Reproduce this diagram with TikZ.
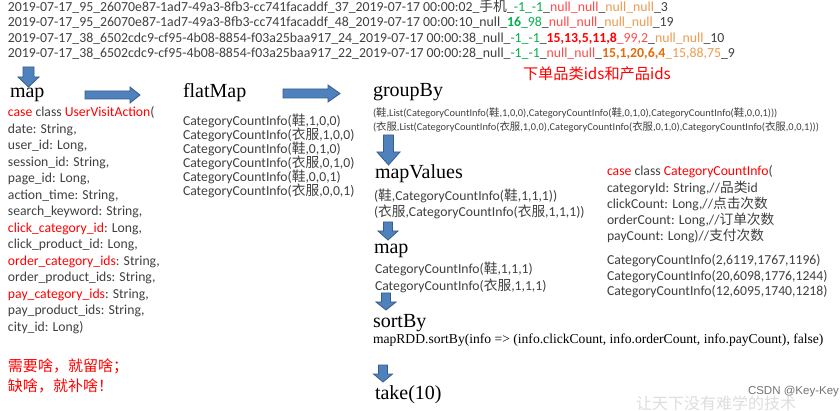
\documentclass[tikz,border=0pt]{standalone}
\usepackage{fontspec}
\setmainfont{Carlito}
\newfontfamily\cjk{Noto Sans CJK SC}
\newfontfamily\tms{Liberation Serif}
\newfontfamily\arialf{Liberation Sans}
\definecolor{txt}{HTML}{404040}
\definecolor{gr}{HTML}{00B050}
\definecolor{rd}{HTML}{FF0000}
\definecolor{rdl}{HTML}{FF4B4B}
\definecolor{orl}{HTML}{F09A50}
\definecolor{ord}{HTML}{E46C0A}
\definecolor{arfill}{HTML}{4F81BD}
\definecolor{arline}{HTML}{385D8A}
\newcommand{\G}[1]{\textcolor{gr}{#1}}
\newcommand{\Rl}[1]{\textcolor{rdl}{#1}}
\newcommand{\R}[1]{\textcolor{rd}{#1}}
\newcommand{\Ol}[1]{\textcolor{orl}{#1}}
\newcommand{\Od}[1]{\textcolor{ord}{#1}}
\newcommand{\xie}{{\cjk 鞋}}
\newcommand{\yf}{{\cjk 衣服}}
\newcommand{\RArr}[6]{% x0, x1, yc, halfhead, halfshaft, headlen
  \filldraw[blockarrow] (#1,{#3-#5}) -- ({#2-#6},{#3-#5}) -- ({#2-#6},{#3-#4}) -- (#2,#3)
    -- ({#2-#6},{#3+#4}) -- ({#2-#6},{#3+#5}) -- (#1,{#3+#5}) -- cycle;}
\newcommand{\DArr}[6]{% xc, y0, y1, halfhead, halfshaft, headlen
  \filldraw[blockarrow] ({#1-#5},#2) -- ({#1-#5},{#3-#6}) -- ({#1-#4},{#3-#6}) -- (#1,#3)
    -- ({#1+#4},{#3-#6}) -- ({#1+#5},{#3-#6}) -- ({#1+#5},#2) -- cycle;}
\begin{document}
\begin{tikzpicture}[x=1pt,y=-1pt,
  every node/.style={inner sep=0pt,outer sep=0pt,anchor=base west},
  blockarrow/.style={fill=arfill,draw=arline,line width=0.8pt,line join=miter},
  toprow/.style={font=\fontsize{13.8}{15}\selectfont,text=txt},
  body/.style={font=\fontsize{13.7}{15}\selectfont,text=txt},
  tiny/.style={font=\fontsize{10.4}{11}\selectfont,text=txt},
  title/.style={font=\tms\fontsize{20}{22}\selectfont,text=black},
  redcjk/.style={font=\cjk\fontsize{15}{17}\selectfont,text=rd}]
\useasboundingbox[fill=white] (0,0) rectangle (840,411);

% top data rows
\node[toprow] (r1) at (8,11.5) {2019-07-17\_95\_26070e87-1ad7-49a3-8fb3-cc741facaddf\_37\_2019-07-17 00:00:02\_{\cjk 手机}\_\G{-1\_-1}\_\Rl{null\_null}\_\Ol{null\_null}\_3};
\node[toprow] (r2) at (8,27) {2019-07-17\_95\_26070e87-1ad7-49a3-8fb3-cc741facaddf\_48\_2019-07-17 00:00:10\_null\_\G{\textbf{16}\_98}\_\Rl{null\_null}\_\Ol{null\_null}\_19};
\node[toprow] (r3) at (8,42.5) {2019-07-17\_38\_6502cdc9-cf95-4b08-8854-f03a25baa917\_24\_2019-07-17 00:00:38\_null\_\G{-1\_-1}\_\R{\textbf{15,13,5,11,8}}\Rl{\_99,2}\_\Ol{null\_null}\_10};
\node[toprow] (r4) at (8,58) {2019-07-17\_38\_6502cdc9-cf95-4b08-8854-f03a25baa917\_22\_2019-07-17 00:00:28\_null\_\G{-1\_-1}\_\Rl{null\_null}\_\Od{\textbf{15,1,20,6,4}}\Ol{\_15,88,75}\_9};
\node[font=\cjk\fontsize{15.2}{17}\selectfont,text=rd] (note) at (523,79.5) {下单品类ids和产品ids};

% arrows
\DArr{28.5}{67}{87}{10.5}{5.5}{10}
\RArr{85}{140}{95}{8}{4}{10}
\RArr{283}{340}{93.5}{8.5}{4.5}{12}
\DArr{388.5}{135}{165}{11.5}{5}{13}
\DArr{388}{222}{240}{10}{4.5}{9}
\DArr{386}{293}{310}{10}{4.5}{8}
\DArr{383}{365}{382}{9.5}{4.5}{8}

% titles
\node[title] (tmap) at (10,98) {map};
\node[title] (tflat) at (183,98) {flatMap};
\node[title] (tgroup) at (373,96.5) {groupBy};
\node[title] (tmapv) at (375,179) {mapValues};
\node[title] (tmap2) at (374,254) {map};
\node[title] (tsort) at (373,327) {sortBy};
\node[title] (ttake) at (375,399) {take(10)};

% left column
\node[body] (l1) at (8,117) {\R{case} class \R{UserVisitAction}(};
\node[body] (l2) at (8,133.5) {date: String,};
\node[body] (l3) at (8,150) {user\_id: Long,};
\node[body] (l4) at (8,166.5) {session\_id: String,};
\node[body] (l5) at (8,183) {page\_id: Long,};
\node[body] (l6) at (8,199.5) {action\_time: String,};
\node[body] (l7) at (8,216) {search\_keyword: String,};
\node[body] (l8) at (8,232.5) {\R{click\_category\_id}: Long,};
\node[body] (l9) at (8,249) {click\_product\_id: Long,};
\node[body] (l10) at (8,265.5) {\R{order\_category\_ids}: String,};
\node[body] (l11) at (8,282) {order\_product\_ids: String,};
\node[body] (l12) at (8,298.5) {\R{pay\_category\_ids}: String,};
\node[body] (l13) at (8,315) {pay\_product\_ids: String,};
\node[body] (l14) at (8,331.5) {city\_id: Long)};
\node[redcjk] (n1) at (8,371) {需要啥，就留啥；};
\node[redcjk] (n2) at (8,391) {缺啥，就补啥！};

% flatMap column
\node[body] (f1) at (183,126) {CategoryCountInfo(\xie,1,0,0)};
\node[body] (f2) at (183,140) {CategoryCountInfo(\yf,1,0,0)};
\node[body] (f3) at (183,154) {CategoryCountInfo(\xie,0,1,0)};
\node[body] (f4) at (183,168) {CategoryCountInfo(\yf,0,1,0)};
\node[body] (f5) at (183,182) {CategoryCountInfo(\xie,0,0,1)};
\node[body] (f6) at (183,196) {CategoryCountInfo(\yf,0,0,1)};

% groupBy
\node[tiny] (g1) at (373,116.5) {(\xie,List(CategoryCountInfo(\xie,1,0,0),CategoryCountInfo(\xie,0,1,0),CategoryCountInfo(\xie,0,0,1)))};
\node[tiny] (g2) at (373,130.5) {(\yf,List(CategoryCountInfo(\yf,1,0,0),CategoryCountInfo(\yf,0,1,0),CategoryCountInfo(\yf,0,0,1)))};

% mapValues
\node[body] (v1) at (374,201) {(\xie,CategoryCountInfo(\xie,1,1,1))};
\node[body] (v2) at (374,216.5) {(\yf,CategoryCountInfo(\yf,1,1,1))};

% map
\node[body] (m1) at (375,274) {CategoryCountInfo(\xie,1,1,1)};
\node[body] (m2) at (375,291) {CategoryCountInfo(\yf,1,1,1)};

% sortBy
\node[font=\tms\fontsize{13.6}{15}\selectfont] (s1) at (373,343.5) {mapRDD.sortBy(info => (info.clickCount, info.orderCount, info.payCount), false)};

% right column
\node[body] (c1) at (607,176) {\R{case} class \R{CategoryCountInfo}(};
\node[body] (c2) at (607,192.5) {categoryId: String,//{\cjk 品类}id};
\node[body] (c3) at (607,209) {clickCount: Long,//{\cjk 点击次数}};
\node[body] (c4) at (607,225) {orderCount: Long,//{\cjk 订单次数}};
\node[body] (c5) at (607,241) {payCount: Long)//{\cjk 支付次数}};
\node[body] (c6) at (607,265) {CategoryCountInfo(2,6119,1767,1196)};
\node[body] (c7) at (607,280.5) {CategoryCountInfo(20,6098,1776,1244)};
\node[body] (c8) at (607,296) {CategoryCountInfo(12,6095,1740,1218)};

% watermark
\node[font=\cjk\fontsize{16}{18}\selectfont,text=black!13] (wm) at (636,409) {让天下没有难学的技术};
\node[font=\arialf\fontsize{11.5}{13}\selectfont,text=black!55] (csdn) at (748,394) {CSDN @Key-Key};
\end{tikzpicture}
\end{document}
